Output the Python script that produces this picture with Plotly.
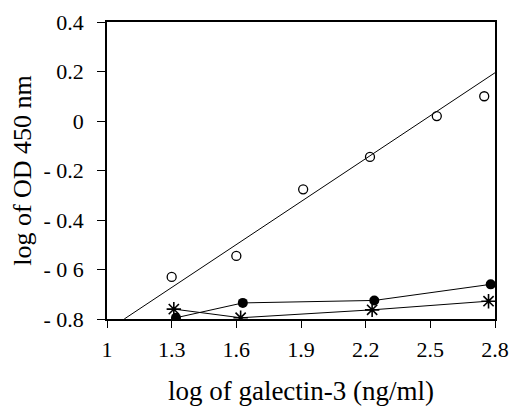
import plotly.graph_objects as go

# data
open_x = [1.3, 1.6, 1.91, 2.22, 2.53, 2.75]
open_y = [-0.63, -0.545, -0.276, -0.145, 0.02, 0.10]

fit_x = [1.08, 2.8]
fit_y = [-0.80, 0.195]

filled_x = [1.32, 1.63, 2.24, 2.78]
filled_y = [-0.795, -0.735, -0.725, -0.66]

star_x = [1.31, 1.62, 2.23, 2.77]
star_y = [-0.76, -0.795, -0.763, -0.728]

x_ticks = [1, 1.3, 1.6, 1.9, 2.2, 2.5, 2.8]
x_tick_text = ["1", "1.3", "1.6", "1.9", "2.2", "2.5", "2.8"]
y_ticks = [0.4, 0.2, 0, -0.2, -0.4, -0.6, -0.8]
y_tick_text = ["0.4", "0.2", "0", "- 0.2", "- 0.4", "- 0 6", "- 0.8"]

font = "Liberation Serif, Times New Roman, Times, serif"

fig = go.Figure()
fig.add_trace(go.Scatter(x=fit_x, y=fit_y, mode="lines",
                         line=dict(color="black", width=1), showlegend=False))
fig.add_trace(go.Scatter(x=star_x, y=star_y, mode="lines+markers",
                         line=dict(color="black", width=1),
                         marker=dict(symbol="asterisk-open", size=12, color="black",
                                     line=dict(color="black", width=1.6)),
                         showlegend=False))
fig.add_trace(go.Scatter(x=filled_x, y=filled_y, mode="lines+markers",
                         line=dict(color="black", width=1),
                         marker=dict(symbol="circle", size=10, color="black"),
                         showlegend=False))
fig.add_trace(go.Scatter(x=open_x, y=open_y, mode="markers",
                         marker=dict(symbol="circle-open", size=9, color="black",
                                     line=dict(color="black", width=1.3)),
                         showlegend=False))

# page body adds an 8px offset; figure is sized to compensate
fig.update_layout(
    width=509, height=402,
    margin=dict(l=99, r=22, t=14, b=91),
    paper_bgcolor="white", plot_bgcolor="white",
    font=dict(family=font, color="black", size=20),
    xaxis=dict(range=[1, 2.8], tickvals=x_ticks, ticktext=x_tick_text,
               showgrid=False, zeroline=False, showline=True, linecolor="black",
               linewidth=1.5, mirror=True, ticks="outside", ticklen=7,
               tickcolor="black", tickwidth=1.2, automargin=False,
               ticklabelstandoff=3,
               tickfont=dict(family=font, size=22, color="black"),
               title=dict(text="log of galectin-3 (ng/ml)",
                          font=dict(family=font, size=27, color="black"), standoff=20)),
    yaxis=dict(range=[-0.8, 0.4], tickvals=y_ticks, ticktext=y_tick_text,
               showgrid=False, zeroline=False, showline=True, linecolor="black",
               linewidth=1.5, mirror=True, ticks="outside", ticklen=8,
               tickcolor="black", tickwidth=1.2, ticklabelstandoff=9,
               automargin=False,
               tickfont=dict(family=font, size=22, color="black"),
               title=dict(text="log of OD 450 nm",
                          font=dict(family=font, size=26, color="black"), standoff=12)),
)

fig.write_html("out.html")
